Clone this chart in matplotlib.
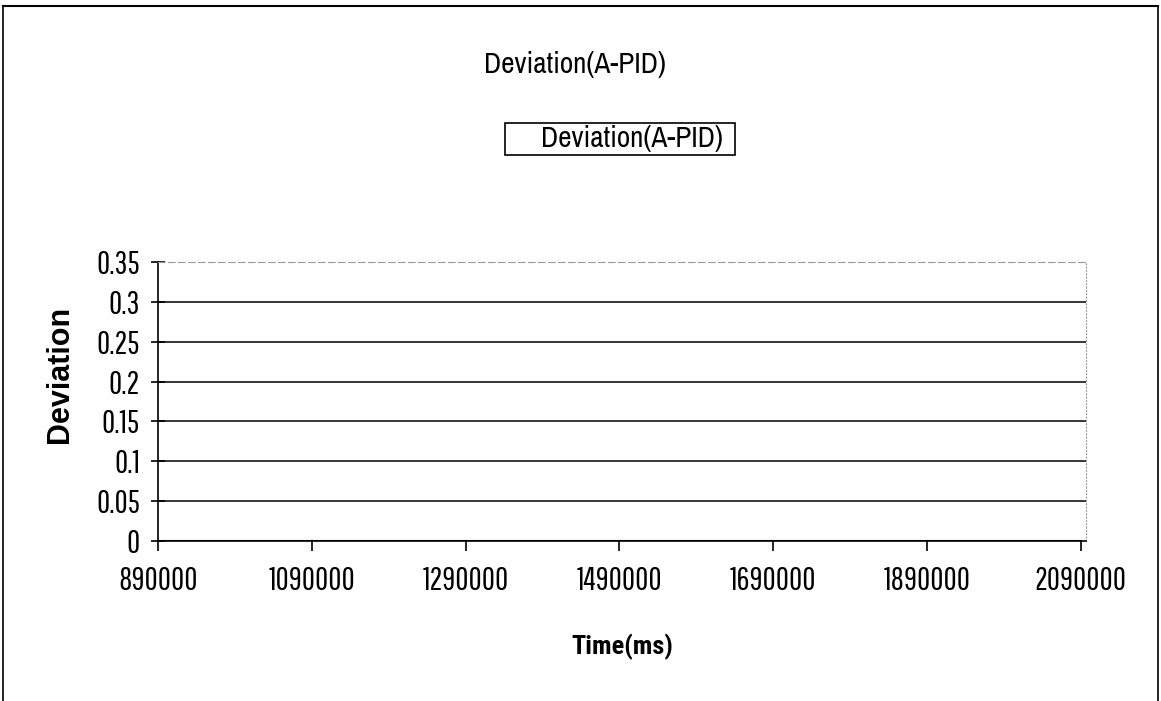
import numpy as np
import matplotlib.pyplot as plt
from matplotlib.patches import Rectangle

narrow = ['Pathway Gothic One', 'Archivo Narrow', 'DejaVu Sans']
title_font = ['Archivo Narrow', 'PT Sans Narrow', 'DejaVu Sans']
plt.rcParams['font.family'] = narrow

# data
time_ms = [890000, 1090000, 1290000, 1490000, 1690000, 1890000, 2090000]
deviation = [0, 0, 0, 0, 0, 0, 0]
x_ticks = [890000, 1090000, 1290000, 1490000, 1690000, 1890000, 2090000]
y_ticks = [0, 0.05, 0.1, 0.15, 0.2, 0.25, 0.3, 0.35]
y_labels = ['0', '0.05', '0.1', '0.15', '0.2', '0.25', '0.3', '0.35']

fig = plt.figure(figsize=(11.61, 7.01), dpi=100)
W, H = 1161, 701

# outer chart frame (bottom edge is cut off in the scan)
fig.add_artist(plt.Line2D([3/W, 1158/W], [1 - 6/H, 1 - 6/H], color='black', lw=1.5))
fig.add_artist(plt.Line2D([3/W, 3/W], [0, 1 - 6/H], color='black', lw=1.2))
fig.add_artist(plt.Line2D([1158/W, 1158/W], [0, 1 - 6/H], color='black', lw=1.2))

ax_w = 1086 - 158
ax_h = 541 - 262
ax = fig.add_axes([158/W, 1 - 541/H, ax_w/W, ax_h/H])

ax.plot(time_ms, deviation, color='black', lw=1.5, label='Deviation(A-PID)')

ax.set_xlim(890000, 2097000)
ax.set_ylim(0, 0.35)
ax.set_xticks(x_ticks)
ax.set_xticklabels([str(t) for t in x_ticks], fontsize=23)
ax.set_yticks(y_ticks)
ax.set_yticklabels(y_labels, fontsize=23)

# horizontal gridlines
for y in y_ticks[1:-1]:
    ax.axhline(y, color='black', lw=1.1, zorder=1)

ax.spines['top'].set_color('#999999')
ax.spines['top'].set_linestyle((0, (6, 3)))
ax.spines['right'].set_color('#999999')
ax.spines['right'].set_linestyle((0, (1, 2)))
ax.spines['left'].set_linewidth(1.2)
ax.spines['bottom'].set_linewidth(1.2)

ax.tick_params(axis='x', direction='out', length=7, width=1.2, pad=11)
ax.tick_params(axis='y', direction='inout', length=10, width=1.2, pad=8)

ax.set_xlabel('Time(ms)', fontsize=19, fontweight='bold', labelpad=27,
              family=['Roboto Condensed', 'DejaVu Sans'])
ax.set_ylabel('Deviation', fontsize=22, fontweight='bold',
              family=['Liberation Sans', 'DejaVu Sans'])
ax.yaxis.set_label_coords((75 - 158) / ax_w, (541 - 374) / ax_h)

fig.text(575/W, 1 - 65/H, 'Deviation(A-PID)', fontsize=21, ha='center', va='center',
         family=title_font)

# legend box (no visible key in the reference)
fig.add_artist(Rectangle((505/W, 1 - 155/H), 230/W, 32/H, transform=fig.transFigure,
                         fill=False, edgecolor='black', lw=1.2))
fig.text(632/W, 1 - 139/H, 'Deviation(A-PID)', fontsize=21, ha='center', va='center',
         family=title_font)

fig.savefig('out.png', dpi=100)
